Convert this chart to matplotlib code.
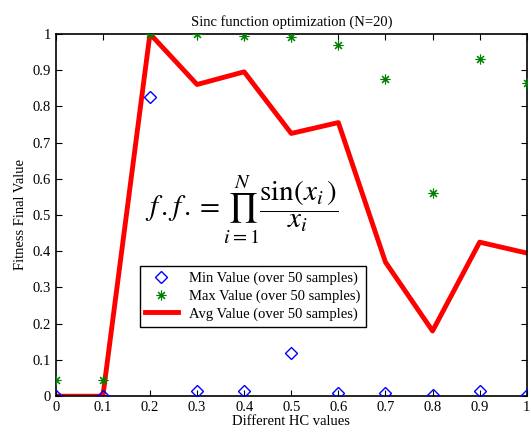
import matplotlib
matplotlib.use('Agg')
import matplotlib.pyplot as plt
import numpy as np

hc = [0.0, 0.1, 0.2, 0.3, 0.4, 0.5, 0.6, 0.7, 0.8, 0.9, 1.0]
min_val = [0.0, 0.0, 0.825, 0.015, 0.015, 0.12, 0.008, 0.01, 0.002, 0.013, 0.002]
max_val = [0.045, 0.045, 1.0, 1.0, 0.995, 0.99, 0.97, 0.875, 0.56, 0.93, 0.865]
avg_val = [0.0, 0.0, 1.0, 0.86, 0.895, 0.725, 0.755, 0.37, 0.18, 0.425, 0.395]
tick_labels = ['0', '0.1', '0.2', '0.3', '0.4', '0.5', '0.6', '0.7', '0.8', '0.9', '1']

plt.rcParams['font.family'] = ['Liberation Serif', 'DejaVu Serif']
plt.rcParams['mathtext.fontset'] = 'stix'

fig = plt.figure(figsize=(5.31, 4.33), dpi=100)
ax = fig.add_axes([0.105, 0.085, 0.887, 0.837])

ax.plot(hc, avg_val, color='red', lw=3.5, label='Avg Value (over 50 samples)', zorder=2)
ax.plot(hc, min_val, 'D', mfc='none', mec='blue', ms=6.5, mew=1, ls='none',
        label='Min Value (over 50 samples)', zorder=3)
ax.plot(hc, max_val, marker=(8, 2, 0), color='green', ms=7, mew=0.8, ls='none',
        label='Max Value (over 50 samples)', zorder=3)

ax.set_xlim(0, 1)
ax.set_ylim(0, 1)
ax.set_xticks(hc)
ax.set_yticks(hc)
ax.set_xticklabels(tick_labels)
ax.set_yticklabels(tick_labels)
ax.tick_params(direction='in', top=True, right=True, labelsize=10.5, length=4)
for s in ax.spines.values():
    s.set_linewidth(1.2)

ax.set_title('Sinc function optimization (N=20)', fontsize=10.5)
ax.set_xlabel('Different HC values', fontsize=10.5, labelpad=1)
ax.set_ylabel('Fitness Final Value', fontsize=10.5)

ax.text(0.19, 0.515, r'$f\,.f\,.=\prod_{i=1}^{N}\dfrac{\sin(x_i\,)}{x_i}$',
        fontsize=21, transform=ax.transAxes, va='center')

h, l = ax.get_legend_handles_labels()
leg = ax.legend([h[1], h[2], h[0]], [l[1], l[2], l[0]], loc='upper left',
                bbox_to_anchor=(0.178, 0.36), borderaxespad=0, fancybox=False,
                edgecolor='black', fontsize=10.5, handlelength=2.2, borderpad=0.4,
                labelspacing=0.3, framealpha=1)
leg.get_frame().set_linewidth(1.0)

fig.savefig('out.png', dpi=100)
